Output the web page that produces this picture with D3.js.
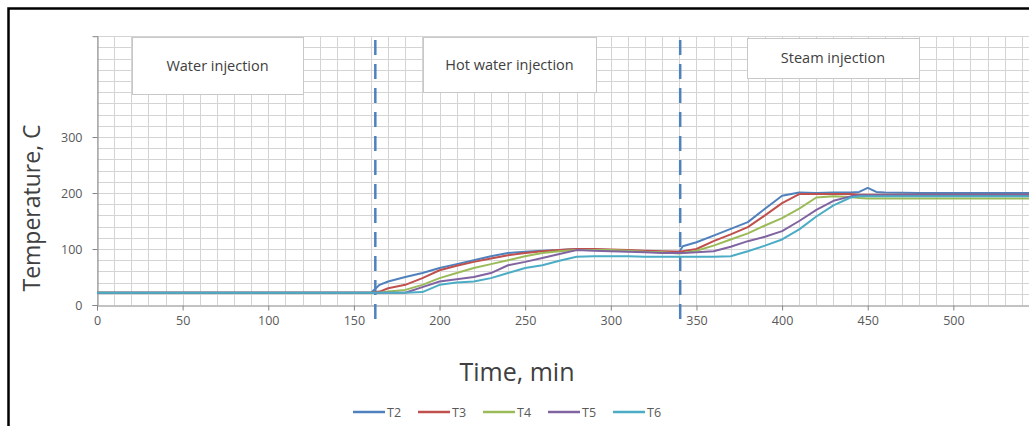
<!DOCTYPE html>
<html>
<head>
<meta charset="utf-8">
<script src="https://cdn.jsdelivr.net/npm/d3@7"></script>
<style>
  body { margin: 0; background: #fff; }
  svg { display: block; font-family: "Open Sans", "Liberation Sans", sans-serif; }
</style>
</head>
<body>
<script>
// Data
var times = [0, 160, 165, 170, 180, 190, 200, 210, 220, 230, 240, 250, 260, 270, 280, 290, 300, 310, 320, 330, 340, 342,
             350, 360, 370, 380, 390, 400, 410, 420, 430, 440, 445, 450, 455, 460, 480, 500, 550];
var T2 = [22, 22, 36, 42, 50, 57, 66, 73, 80, 87, 93, 95, 97, 98, 100, 99, 98, 97, 96, 95, 95, 105,
          112, 124, 136, 148, 172, 195, 201, 200, 201, 201, 202, 209, 202, 201, 200, 200, 200];
var T3 = [22, 22, 24, 30, 36, 48, 62, 70, 77, 83, 89, 93, 96, 98, 100, 100, 99, 98, 97, 96, 95, 96,
          100, 114, 126, 139, 160, 182, 198, 198, 198, 198, 197, 197, 197, 197, 197, 197, 197];
var T4 = [22, 22, 22, 24, 27, 36, 48, 57, 66, 73, 80, 87, 93, 96, 98, 98, 98, 97, 95, 94, 92, 93,
          97, 106, 117, 128, 142, 155, 172, 192, 194, 193, 191, 190, 190, 190, 190, 190, 190];
var T5 = [22, 22, 22, 22, 22, 32, 42, 46, 50, 57, 71, 77, 84, 91, 98, 97, 96, 95, 94, 93, 93, 93,
          94, 96, 104, 114, 122, 132, 150, 170, 186, 194, 196, 196, 196, 196, 196, 196, 196];
var T6 = [22, 22, 22, 22, 22, 23, 36, 40, 42, 48, 57, 66, 71, 79, 86, 87, 87, 87, 86, 86, 86, 86,
          86, 86, 87, 96, 106, 117, 135, 158, 178, 192, 194, 194, 194, 194, 194, 194, 194];
var seriesNames = ["T2", "T3", "T4", "T5", "T6"];
var seriesValues = [T2, T3, T4, T5, T6];
var colors = ["#4F81BD", "#C0504D", "#9BBB59", "#8064A2", "#4BACC6"];
var xTicks = [0, 50, 100, 150, 200, 250, 300, 350, 400, 450, 500, 550];
var yTicks = [0, 100, 200, 300];
var phaseTimes = [162.5, 340.5];
var phaseLabels = ["Water injection", "Hot water injection", "Steam injection"];

var W = 1029, H = 426;
var svg = d3.select("body").append("svg").attr("width", W).attr("height", H);

// scales: 0 min at x=97, 500 min at x=953; 0 C at y=305
var x = d3.scaleLinear().domain([0, 550]).range([97, 1039]);
var y = d3.scaleLinear().domain([0, 480]).range([305, 36.2]);

// gridlines
var grid = svg.append("g").attr("stroke", "#d4d4d4").attr("stroke-width", 1);
grid.selectAll("line.v").data(d3.range(0, 551, 10)).enter().append("line")
  .attr("x1", function(d) { return Math.round(x(d)) + 0.5; })
  .attr("x2", function(d) { return Math.round(x(d)) + 0.5; })
  .attr("y1", y(480)).attr("y2", y(0));
grid.selectAll("line.h").data(d3.range(20, 481, 20)).enter().append("line")
  .attr("y1", function(d) { return Math.round(y(d)) + 0.5; })
  .attr("y2", function(d) { return Math.round(y(d)) + 0.5; })
  .attr("x1", x(0)).attr("x2", x(550));

// axes
var xAxis = svg.append("g")
  .attr("transform", "translate(0," + (Math.round(y(0)) + 0.5) + ")")
  .call(d3.axisBottom(x).tickValues(xTicks).tickSize(5).tickPadding(6));
var yAxis = svg.append("g")
  .attr("transform", "translate(" + (Math.round(x(0)) + 0.5) + ",0)")
  .call(d3.axisLeft(y).tickValues(yTicks).tickSize(5).tickPadding(10));
[xAxis, yAxis].forEach(function(a) {
  a.select(".domain").attr("stroke", "#868686");
  a.selectAll(".tick line").attr("stroke", "#868686");
  a.selectAll(".tick text").attr("fill", "#595959").style("font-size", "12.5px")
    .style("font-family", "'Open Sans', sans-serif");
});

// phase label boxes
var boxes = [
  {x0: 132, y0: 37, x1: 303, y1: 94},
  {x0: 423, y0: 37, x1: 596, y1: 92},
  {x0: 747, y0: 38, x1: 919, y1: 78}
];
boxes.forEach(function(b, i) {
  svg.append("rect").attr("x", b.x0 + 0.5).attr("y", b.y0 + 0.5)
    .attr("width", b.x1 - b.x0).attr("height", b.y1 - b.y0)
    .attr("fill", "#fff").attr("stroke", "#c8c8c8").attr("stroke-width", 1);
  svg.append("text").attr("x", (b.x0 + b.x1) / 2).attr("y", (b.y0 + b.y1) / 2 + 5)
    .attr("text-anchor", "middle").attr("fill", "#404040")
    .style("font-size", "14.5px").text(phaseLabels[i]);
});

// dashed phase separators
svg.selectAll("line.phase").data(phaseTimes).enter().append("line")
  .attr("x1", function(d) { return x(d); }).attr("x2", function(d) { return x(d); })
  .attr("y1", 40).attr("y2", 320)
  .attr("stroke", "#4F81BD").attr("stroke-width", 2.5).attr("stroke-dasharray", "15,9");

// series lines
var line = d3.line()
  .x(function(d, i) { return x(times[i]); })
  .y(function(d) { return y(d); });
svg.append("g").selectAll("path").data(seriesValues).enter().append("path")
  .attr("d", line)
  .attr("fill", "none")
  .attr("stroke", function(d, i) { return colors[i]; })
  .attr("stroke-width", 2)
  .attr("stroke-linejoin", "round");

// axis titles
svg.append("text")
  .attr("transform", "translate(40,208) rotate(-90)")
  .attr("text-anchor", "middle").attr("fill", "#404040")
  .style("font-size", "23px").text("Temperature, C");
svg.append("text")
  .attr("x", 517).attr("y", 381)
  .attr("text-anchor", "middle").attr("fill", "#404040")
  .style("font-size", "25px").text("Time, min");

// legend
var legend = svg.append("g").selectAll("g").data(seriesNames).enter().append("g")
  .attr("transform", function(d, i) { return "translate(353," + 412 + ")translate(" + (i * 65) + ",0)"; });
legend.append("line").attr("x1", 0).attr("x2", 32).attr("y1", 0).attr("y2", 0)
  .attr("stroke", function(d, i) { return colors[i]; }).attr("stroke-width", 2.5);
legend.append("text").attr("x", 34).attr("y", 4.5).attr("fill", "#595959")
  .style("font-size", "12.5px").text(function(d) { return d; });

// outer frame (only top and left edges are in view)
svg.append("path").attr("d", "M8.5," + H + "V8.5H" + W)
  .attr("fill", "none").attr("stroke", "#000").attr("stroke-width", 2.5);
</script>
</body>
</html>
